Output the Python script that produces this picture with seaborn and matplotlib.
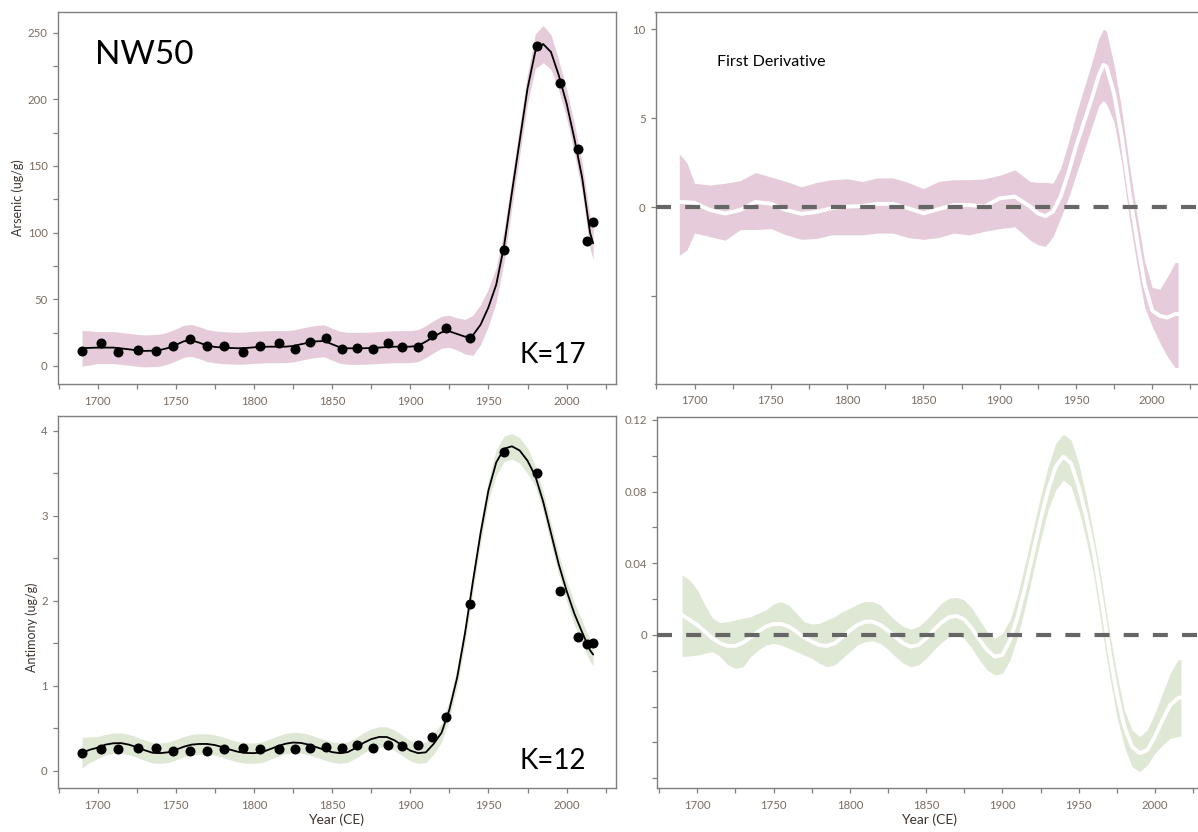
import numpy as np
import pandas as pd
import matplotlib
matplotlib.use("Agg")
import matplotlib.pyplot as plt
import seaborn as sns

# ---------------- data ----------------
# sampled core depths converted to years (CE)
sample_years = [1690, 1702, 1713, 1726, 1737, 1748, 1759, 1770, 1781, 1793,
                1804, 1816, 1826, 1836, 1846, 1856, 1866, 1876, 1886, 1895,
                1905, 1914, 1923, 1938, 1960, 1981, 1996, 2007, 2013, 2017]
arsenic = [11.5, 17, 10.7, 12, 11.5, 15.2, 20.2, 15.2, 15.2, 10.7,
           15.2, 17, 12.5, 18, 21.3, 12.5, 13.8, 12.5, 17.5, 14.5,
           14.5, 23.2, 28.7, 21.3, 87, 240, 212, 163, 94, 108]
antimony = [0.215, 0.26, 0.26, 0.27, 0.27, 0.235, 0.235, 0.24, 0.26, 0.27,
            0.26, 0.26, 0.254, 0.27, 0.285, 0.27, 0.31, 0.27, 0.30, 0.29,
            0.305, 0.40, 0.63, 1.97, 3.75, 3.50, 2.12, 1.58, 1.49, 1.51]

# GAM fits evaluated on a 5-year grid
fit_years = list(range(1690, 2016, 5)) + [2017]
arsenic_fit = [13.3, 13.6, 13.8, 13.8, 13.8, 13.2, 12.5, 11.8, 11.3, 11.5,
               12.0, 13.5, 15.8, 18.5, 19.2, 17.5, 15.3, 14.3, 13.8, 13.5,
               13.3, 13.5, 14.0, 14.3, 14.5, 14.5, 14.5, 15.0, 16.3, 17.5,
               18.5, 18.8, 16.3, 14.0, 13.3, 13.2, 13.3, 13.5, 13.8, 14.2,
               14.5, 14.5, 14.5, 15.3, 18.3, 22.0, 25.3, 26.0, 24.0, 22.0,
               23.0, 31.0, 44.0, 61.0, 90.0, 130.0, 169.0, 208.0, 236.0, 241.5,
               235.5, 218.0, 197.0, 170.5, 141.0, 100.0, 92.0]
arsenic_ci = [13.5, 12.8, 12, 12, 12, 12, 12, 12, 12, 12,
              12, 12, 12, 12, 12, 12, 12, 12, 12, 12,
              12, 12, 12, 12, 12, 12, 12, 12, 12, 12,
              12, 12, 12, 12, 12, 12, 12, 12, 12, 12,
              12, 12, 12, 12, 12, 12, 12, 12, 12, 13,
              15, 15, 14, 13, 12, 11, 11, 11, 13, 14,
              13, 11, 11, 11, 11, 12, 12]
antimony_fit = [0.215, 0.25, 0.275, 0.31, 0.326, 0.328, 0.31, 0.28, 0.245, 0.215,
                0.21, 0.22, 0.25, 0.285, 0.31, 0.318, 0.318, 0.305, 0.28, 0.25,
                0.225, 0.212, 0.21, 0.22, 0.255, 0.29, 0.32, 0.335, 0.33, 0.31,
                0.28, 0.25, 0.222, 0.21, 0.222, 0.27, 0.33, 0.375, 0.40, 0.40,
                0.36, 0.30, 0.24, 0.21, 0.22, 0.32, 0.45, 0.72, 1.10, 1.62,
                2.22, 2.80, 3.30, 3.63, 3.79, 3.82, 3.77, 3.65, 3.47, 3.17,
                2.80, 2.43, 2.12, 1.85, 1.63, 1.42, 1.37]
antimony_ci = [0.18, 0.15, 0.13, 0.12, 0.12, 0.12, 0.12, 0.12, 0.12, 0.12,
               0.12, 0.12, 0.12, 0.12, 0.12, 0.12, 0.12, 0.12, 0.12, 0.12,
               0.12, 0.12, 0.12, 0.12, 0.12, 0.12, 0.12, 0.12, 0.12, 0.12,
               0.12, 0.12, 0.12, 0.12, 0.12, 0.12, 0.12, 0.12, 0.12, 0.12,
               0.12, 0.12, 0.12, 0.12, 0.12, 0.12, 0.11, 0.11, 0.11, 0.11,
               0.12, 0.12, 0.12, 0.15, 0.15, 0.15, 0.15, 0.15, 0.12, 0.12,
               0.12, 0.12, 0.12, 0.13, 0.13, 0.13, 0.13]

# first derivative of the arsenic fit with its confidence band
as_deriv_years = [1690, 1695, 1700, 1710, 1720, 1730, 1740, 1750, 1760, 1770,
                  1780, 1790, 1800, 1810, 1820, 1830, 1840, 1850, 1860, 1870,
                  1880, 1890, 1900, 1910, 1920, 1925, 1930, 1935, 1940, 1945,
                  1950, 1955, 1960, 1965, 1968, 1970, 1975, 1980, 1985, 1990,
                  1995, 2000, 2005, 2010, 2015, 2017]
as_deriv = [0.3, 0.28, 0.25, -0.15, -0.35, -0.15, 0.3, 0.2, -0.15, -0.37,
            -0.26, -0.05, 0.04, 0.07, 0.19, 0.19, -0.05, -0.34, -0.1, 0.13,
            0.13, 0.04, 0.5, 0.6, 0.04, -0.34, -0.5, -0.24, 0.6, 1.9,
            3.4, 4.7, 6.0, 7.4, 8.0, 7.9, 6.4, 4.0, 0.9, -1.8,
            -4.3, -5.8, -6.1, -6.2, -6.0, -6.0]
as_deriv_hi = [3.0, 2.5, 1.35, 1.25, 1.35, 1.5, 1.95, 1.7, 1.45, 1.15,
               1.4, 1.55, 1.6, 1.45, 1.65, 1.65, 1.4, 1.05, 1.45, 1.55,
               1.55, 1.6, 1.8, 2.1, 1.45, 1.4, 1.4, 1.35, 2.2, 3.6,
               5.2, 6.6, 8.0, 9.5, 10.0, 9.9, 8.0, 5.5, 2.4, -0.4,
               -3.0, -4.5, -4.6, -3.9, -3.1, -3.1]
as_deriv_lo = [-2.7, -2.4, -1.45, -1.65, -1.85, -1.25, -1.25, -1.2, -1.55, -1.8,
               -1.75, -1.55, -1.55, -1.55, -1.45, -1.45, -1.7, -1.8, -1.7, -1.45,
               -1.55, -1.35, -1.2, -1.1, -1.85, -2.1, -2.2, -1.65, -0.6, 0.5,
               1.8, 3.1, 4.4, 5.7, 6.0, 5.8, 4.8, 2.5, -0.6, -3.2,
               -5.6, -6.7, -7.6, -8.4, -9.0, -9.0]

# first derivative of the antimony fit (same 5-year grid as the fits)
sb_deriv = [0.0112, 0.0084, 0.0056, 0.0019, -0.0019, -0.0047, -0.0061, -0.0061, -0.0043, -0.0013,
            0.0019, 0.0047, 0.0061, 0.0061, 0.0047, 0.0019, -0.0013, -0.0037, -0.0056, -0.0061,
            -0.0047, -0.0013, 0.0024, 0.0056, 0.0074, 0.0074, 0.0056, 0.0024, -0.0013, -0.0047,
            -0.0065, -0.0056, -0.0019, 0.0028, 0.0069, 0.0099, 0.0106, 0.0087, 0.0037, -0.0028,
            -0.0084, -0.0121, -0.0112, -0.0028, 0.0102, 0.027, 0.0456, 0.0642, 0.0809, 0.094,
            0.0995, 0.0958, 0.0828, 0.066, 0.0456, 0.0195, -0.0084, -0.0326, -0.0512, -0.0623,
            -0.066, -0.0642, -0.0567, -0.0474, -0.0391, -0.0353, -0.0348]
sb_deriv_hi = [0.0335, 0.0307, 0.0251, 0.0167, 0.0093, 0.0069, 0.0074, 0.0084, 0.0093, 0.0102,
               0.0121, 0.014, 0.0173, 0.0186, 0.0167, 0.0121, 0.0074, 0.0061, 0.0065, 0.0084,
               0.0102, 0.013, 0.0149, 0.0173, 0.0186, 0.0186, 0.0167, 0.0121, 0.008, 0.0047,
               0.0032, 0.0047, 0.0084, 0.013, 0.0177, 0.0205, 0.021, 0.0195, 0.0149, 0.0084,
               0.0019, -0.0019, 0.0009, 0.0084, 0.0223, 0.04, 0.0586, 0.0772, 0.094, 0.107,
               0.112, 0.1088, 0.0958, 0.0772, 0.0549, 0.0307, 0.0028, -0.0214, -0.0419, -0.053,
               -0.0567, -0.053, -0.0437, -0.0326, -0.0214, -0.014, -0.0136]
sb_deriv_lo = [-0.0121, -0.0117, -0.0112, -0.0102, -0.0093, -0.0121, -0.0167, -0.0186, -0.0177, -0.0121,
               -0.0084, -0.0056, -0.0047, -0.0056, -0.0074, -0.0093, -0.0112, -0.013, -0.0158, -0.0177,
               -0.0167, -0.013, -0.0093, -0.0056, -0.0037, -0.0032, -0.0047, -0.008, -0.0121, -0.0158,
               -0.0177, -0.0167, -0.013, -0.0084, -0.0043, -0.0009, 0.0, -0.0019, -0.0074, -0.014,
               -0.0195, -0.0223, -0.0214, -0.014, -0.0009, 0.0158, 0.0344, 0.053, 0.0698, 0.0809,
               0.0865, 0.0828, 0.0698, 0.053, 0.0326, 0.0047, -0.0214, -0.0456, -0.0623, -0.0735,
               -0.0763, -0.0726, -0.066, -0.0614, -0.0577, -0.0567, -0.0564]

# ---------------- style ----------------
sns.set_theme(style="white")
plt.rcParams["font.family"] = ["Lato", "DejaVu Sans"]

PINK = "#e6ccda"
GREEN = "#dfe7d5"
SPINE = "#7f7f7f"
TICKTXT = "#7a6b60"
LABTXT = "#3d342e"

W, H = 1198, 832
fig = plt.figure(figsize=(W / 100, H / 100), dpi=100)


def panel(l, t, r, b):
    return fig.add_axes([l / W, 1 - b / H, (r - l) / W, (b - t) / H])


def style(ax, xlim, ylim):
    ax.set_xlim(*xlim)
    ax.set_ylim(*ylim)
    for s in ax.spines.values():
        s.set_visible(True)
        s.set_color(SPINE)
        s.set_linewidth(1.0)
    xt = np.arange(1675, 2030, 25)
    ax.set_xticks(xt)
    ax.set_xticklabels([str(int(v)) if int(v) % 50 == 0 else "" for v in xt])
    ax.tick_params(axis="both", which="both", direction="out", length=3.6, width=0.9,
                   color=SPINE, labelcolor=TICKTXT, labelsize=8.2, pad=3.5,
                   bottom=True, left=True, top=False, right=False)
    ax.tick_params(axis="x", pad=5)
    ax.set_xlabel("")
    ax.set_ylabel("")
    ax.grid(False)


def series_panel(ax, fit, ci, obs, color):
    fit = np.asarray(fit)
    ci = np.asarray(ci)
    ax.fill_between(fit_years, fit - ci, fit + ci, color=color, lw=0, zorder=1)
    df_fit = pd.DataFrame({"year": fit_years, "value": fit})
    sns.lineplot(data=df_fit, x="year", y="value", ax=ax, color="black",
                 lw=1.3, sort=False, estimator=None, zorder=3)
    df_obs = pd.DataFrame({"year": sample_years, "value": obs})
    sns.scatterplot(data=df_obs, x="year", y="value", ax=ax, color="black",
                    s=52, edgecolor="black", linewidth=0, zorder=4)


def deriv_panel(ax, years, d, lo, hi, color):
    ax.fill_between(years, lo, hi, color=color, lw=0, zorder=1)
    df = pd.DataFrame({"year": years, "value": d})
    sns.lineplot(data=df, x="year", y="value", ax=ax, color="white",
                 lw=2.8, sort=False, estimator=None, zorder=2)
    ax.axhline(0, color="#666666", lw=3.0, dashes=(3.6, 3.4), zorder=3)


# ---- Arsenic ----
ax1 = panel(57.5, 12, 615.5, 384)
series_panel(ax1, arsenic_fit, arsenic_ci, arsenic, PINK)
style(ax1, (1674.3, 2031.3), (-13.5, 265.5))
ax1.set_yticks(np.arange(0, 251, 25))
ax1.set_yticklabels([str(v) if v % 50 == 0 else "" for v in range(0, 251, 25)])
ax1.text(0.068, 0.885, "NW50", transform=ax1.transAxes, fontsize=24,
         color="black", ha="left", va="center")
ax1.text(0.947, 0.078, "K=17", transform=ax1.transAxes, fontsize=20,
         color="black", ha="right", va="center")
ax1.text(-0.071, 0.5, "Arsenic (ug/g)", transform=ax1.transAxes, rotation=90,
         fontsize=9, color=LABTXT, ha="center", va="center")

# ---- Arsenic first derivative ----
ax2 = panel(655.5, 12, 1201, 383.5)
deriv_panel(ax2, as_deriv_years, as_deriv, as_deriv_lo, as_deriv_hi, PINK)
style(ax2, (1674.4, 2032.0), (-9.9, 10.97))
ax2.set_yticks([-5, 0, 5, 10])
ax2.set_yticklabels(["", "0", "5", "10"])
ax2.text(0.113, 0.865, "First Derivative", transform=ax2.transAxes, fontsize=11.5,
         color="black", ha="left", va="center")

# ---- Antimony ----
ax3 = panel(57.5, 416, 615.5, 788)
series_panel(ax3, antimony_fit, antimony_ci, antimony, GREEN)
style(ax3, (1674.3, 2031.3), (-0.2, 4.176))
ax3.set_yticks(np.arange(0, 4.01, 0.5))
ax3.set_yticklabels([str(int(v)) if v % 1 == 0 else "" for v in np.arange(0, 4.01, 0.5)])
ax3.text(0.947, 0.072, "K=12", transform=ax3.transAxes, fontsize=20,
         color="black", ha="right", va="center")
ax3.text(-0.046, 0.433, "Antimony (ug/g)", transform=ax3.transAxes, rotation=90,
         fontsize=9, color=LABTXT, ha="center", va="center")
ax3.text(0.5, -0.086, "Year (CE)", transform=ax3.transAxes, fontsize=10,
         color=LABTXT, ha="center", va="center")

# ---- Antimony first derivative ----
ax4 = panel(657, 416.5, 1201, 788)
deriv_panel(ax4, fit_years, sb_deriv, sb_deriv_lo, sb_deriv_hi, GREEN)
style(ax4, (1673.6, 2030.2), (-0.0854, 0.1219))
yt = np.round(np.arange(-0.08, 0.121, 0.02), 2)
named = {0.0: "0", 0.04: "0.04", 0.08: "0.08", 0.12: "0.12"}
ax4.set_yticks(yt)
ax4.set_yticklabels([named.get(float(abs(v)) if v == 0 else float(v), "") for v in yt])
ax4.text(0.5, -0.086, "Year (CE)", transform=ax4.transAxes, fontsize=10,
         color=LABTXT, ha="center", va="center")

fig.savefig("out.png", dpi=100)
